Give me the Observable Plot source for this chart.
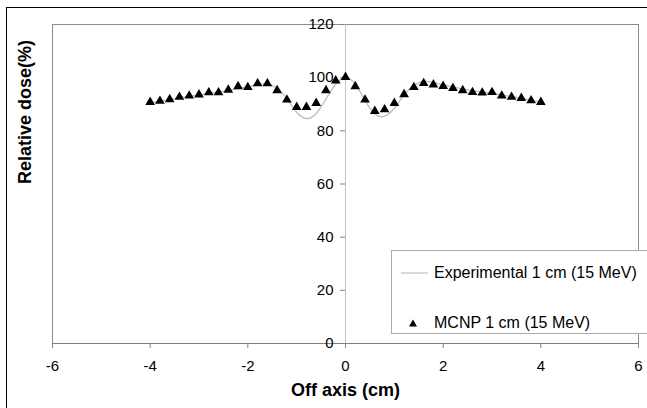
<!DOCTYPE html>
<html><head><meta charset="utf-8">
<script src="https://cdn.jsdelivr.net/npm/d3@7"></script>
<script src="https://cdn.jsdelivr.net/npm/@observablehq/plot@0.6"></script>
<style>
body{margin:0;background:#fff;overflow:hidden;font-family:"Liberation Sans",Arial,sans-serif}
#wrap{position:relative;width:647px;height:408px;overflow:hidden}
#border{position:absolute;left:6px;top:7px;width:700px;height:500px;border-left:1px solid #000;border-top:1px solid #000;z-index:2;pointer-events:none}
#chart{position:absolute;left:0;top:0}
#legend{position:absolute;left:391px;top:250px;width:270px;height:82px;border:1px solid #aaa;background:#fff;z-index:3;font-size:16px;color:#000}
.item{position:absolute;left:0;height:20px;width:270px}
.item span.t{position:absolute;left:42px;top:0;line-height:20px;white-space:nowrap}
</style>
</head><body>
<div id="wrap">
  <div id="border"></div>
  <div id="chart"></div>
  <div id="legend">
    <div class="item" style="top:12px"><svg width="40" height="20" style="position:absolute;left:0;top:0"><line x1="9" x2="36" y1="10" y2="10" stroke="#c0c0c0" stroke-width="1.2"/></svg><span class="t">Experimental 1 cm (15 MeV)</span></div>
    <div class="item" style="top:62px"><svg width="40" height="20" style="position:absolute;left:0;top:0"><path d="M21,6.5 L25,13.5 L17,13.5 Z" fill="#000"/></svg><span class="t">MCNP 1 cm (15 MeV)</span></div>
  </div>
</div>
<script>
// MCNP simulated points
const mcnpX = [-4,-3.8,-3.6,-3.4,-3.2,-3,-2.8,-2.6,-2.4,-2.2,-2,-1.8,-1.6,-1.4,-1.2,-1,-0.8,-0.6,-0.4,-0.2,0,
  0.2,0.4,0.6,0.8,1,1.2,1.4,1.6,1.8,2,2.2,2.4,2.6,2.8,3,3.2,3.4,3.6,3.8,4];
const mcnpDose = [90.8,91.2,91.8,92.7,93.2,93.6,94.4,94.4,95.4,96.7,96.4,97.8,97.8,95.2,91.7,88.9,88.9,90.4,95.2,98.9,100.2,
  96.7,91.7,87.4,88.0,90.4,93.7,96.4,97.9,97.4,96.8,96.0,95.2,94.5,94.3,94.5,93.2,92.7,92.3,91.4,90.8];
// Experimental curve
const expX = [-4,-3.6,-3.2,-2.8,-2.4,-2,-1.8,-1.6,-1.4,-1.2,-1,-0.8,-0.6,-0.4,-0.2,0,0.2,0.4,0.6,0.8,1,1.2,1.4,1.6,1.8,2,2.4,2.8,3.2,3.6,4];
const expDose = [90.5,91.8,93.0,94.0,95.2,96.5,97.3,97.6,96.0,92.0,87.0,84.6,86.5,92.0,97.5,100.0,97.5,91.5,86.3,85.5,88.5,93.5,97.0,98.6,98.2,97.3,95.8,94.6,93.5,92.2,90.8];
const xTicks = [-6,-4,-2,0,2,4,6];
const yTicks = [0,20,40,60,80,100,120];

const mcnp = mcnpX.map((x,i)=>({x, y:mcnpDose[i]}));
const exp = expX.map((x,i)=>({x, y:expDose[i]}));

const chart = Plot.plot({
  width: 647, height: 408,
  marginLeft: 52, marginRight: 9, marginTop: 24, marginBottom: 65,
  style: {fontFamily: '"Liberation Sans", Arial, sans-serif', fontSize: "15px", background: "transparent", overflow: "visible", color: "#000"},
  x: {domain: [-6, 6]},
  y: {domain: [0, 120], axis: null},
  marks: [
    Plot.frame({stroke: "#8c8c8c"}),
    Plot.ruleX([0], {stroke: "#c4c4c4"}),
    Plot.ruleY([0], {stroke: "#808080"}),
    Plot.ruleY(yTicks, {x1: -0.1, x2: 0, stroke: "#808080"}),
    Plot.text(yTicks, {x: 0, y: d => d, dx: -12, textAnchor: "end", text: d => String(d), fill: "#000", fontSize: 15}),
    Plot.axisX(xTicks, {tickFormat: d => String(d), tickSize: 5, tickPadding: 12, stroke: "#808080", fill: "#000", fontSize: 15, label: null}),
    Plot.line(exp, {x: "x", y: "y", curve: "natural", stroke: "#bdbdbd", strokeWidth: 1.3}),
    Plot.dot(mcnp, {x: "x", y: "y", symbol: "triangle", r: 3.6, fill: "#000", stroke: null}),
    Plot.text(["Off axis (cm)"], {frameAnchor: "bottom", dy: 52, text: d => d, fontWeight: "bold", fontSize: 18, fill: "#000"}),
    Plot.text(["Relative dose(%)"], {frameAnchor: "left", dx: -27, rotate: -90, text: d => d, fontWeight: "bold", fontSize: 18, fill: "#000"})
  ]
});
document.getElementById("chart").appendChild(chart);
</script>
</body></html>
